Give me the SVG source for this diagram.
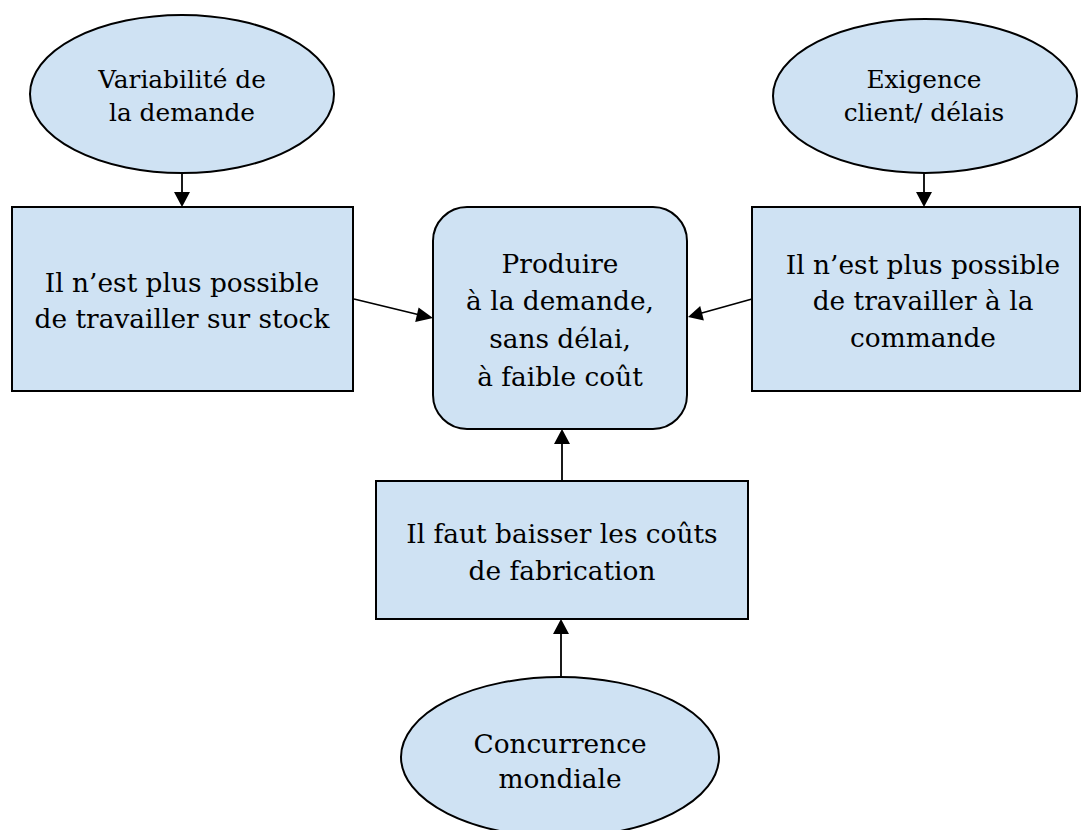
<svg xmlns="http://www.w3.org/2000/svg" width="1083" height="830" viewBox="0 0 1083 830">
<defs>
<style>
.n{fill:#cfe2f3;stroke:#000;stroke-width:2}
.t{font-family:"DejaVu Serif","Liberation Serif",serif;font-size:26.4px;fill:#000;text-anchor:middle}
.e{font-size:24.8px}
.c{stroke:#000;stroke-width:1.8;fill:none}
.h{fill:#000}
</style>
</defs>
<rect width="1083" height="830" fill="#fff"/>
<g id="connectors">
<path class="c" d="M182,173 L182,193"/>
<path class="h" d="M174,192 L190,192 L182,207 z"/>
<path class="c" d="M924,173 L924,193"/>
<path class="h" d="M916,192 L932,192 L924,207 z"/>
<path class="c" d="M354,299 L420,315"/>
<path class="h" d="M418.6,307.5 L433,318 L415.2,322.0 z"/>
<path class="c" d="M752,299 L700,313.5"/>
<path class="h" d="M700.2,306 L688,317 L703.9,320.4 z"/>
<path class="c" d="M562,482 L562,443"/>
<path class="h" d="M554,444 L570,444 L562,429 z"/>
<path class="c" d="M561,677 L561,633"/>
<path class="h" d="M553,634 L569,634 L561,619 z"/>
</g>
<g id="n-variabilite">
<ellipse class="n" cx="182" cy="94" rx="152" ry="79"/>
<text class="t e" x="182" y="88">Variabilité de</text>
<text class="t e" x="182" y="121">la demande</text>
</g>
<g id="n-exigence">
<ellipse class="n" cx="925" cy="96" rx="152" ry="77"/>
<text class="t e" x="924" y="88">Exigence</text>
<text class="t e" x="924" y="121">client/ délais</text>
</g>
<g id="n-stock">
<rect class="n" x="12" y="207" width="341" height="184"/>
<text class="t" x="182" y="292">Il n’est plus possible</text>
<text class="t" x="182" y="328">de travailler sur stock</text>
</g>
<g id="n-produire">
<rect class="n" x="433" y="207" width="254" height="222" rx="34" ry="34"/>
<text class="t" x="560" y="273">Produire</text>
<text class="t" x="560" y="310">à la demande,</text>
<text class="t" x="560" y="348">sans délai,</text>
<text class="t" x="560" y="386">à faible coût</text>
</g>
<g id="n-commande">
<rect class="n" x="752" y="207" width="328" height="184"/>
<text class="t" x="923" y="274">Il n’est plus possible</text>
<text class="t" x="923" y="310">de travailler à la</text>
<text class="t" x="923" y="347">commande</text>
</g>
<g id="n-couts">
<rect class="n" x="376" y="481" width="372" height="138"/>
<text class="t" x="562" y="543">Il faut baisser les coûts</text>
<text class="t" x="562" y="580">de fabrication</text>
</g>
<g id="n-concurrence">
<ellipse class="n" cx="560" cy="757" rx="159" ry="80"/>
<text class="t" x="560" y="753">Concurrence</text>
<text class="t" x="560" y="788">mondiale</text>
</g>
</svg>
